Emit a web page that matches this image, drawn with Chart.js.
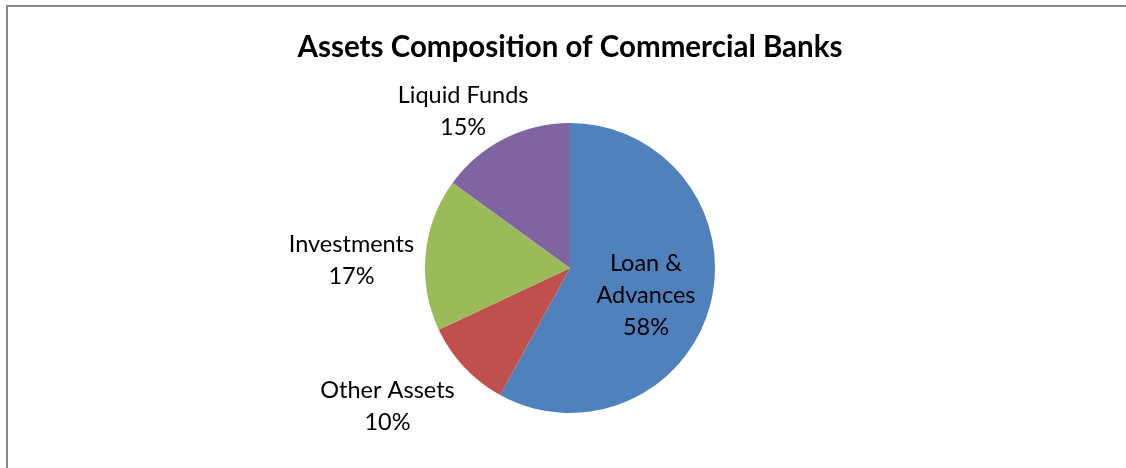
<!DOCTYPE html>
<html>
<head>
<meta charset="utf-8">
<script src="https://cdn.jsdelivr.net/npm/chart.js@4/dist/chart.umd.min.js"></script>
<style>
  html, body { margin: 0; padding: 0; background: #ffffff; }
  #wrap { position: relative; width: 1126px; height: 468px; }
  canvas { display: block; }
</style>
</head>
<body>
<div id="wrap"><canvas id="chart" width="1126" height="468"></canvas></div>
<script>
// Asset composition (percent of total assets)
const categories = ['Loan & Advances', 'Other Assets', 'Investments', 'Liquid Funds'];
const shares = [58, 10, 17, 15];
const sliceColors = ['#4F81BD', '#C0504D', '#9BBB59', '#8064A2'];
const chartTitle = 'Assets Composition of Commercial Banks';

// Label placement relative to each slice: radial factor of the radius and angular nudge (deg)
const labelLayout = [
  { lines: ['Loan &', 'Advances'], k: 0.556, nudge: 5.2 },
  { lines: ['Other Assets'], k: 1.578, nudge: 6.1 },
  { lines: ['Investments'], k: 1.508, nudge: -3.3 },
  { lines: ['Liquid Funds'], k: 1.305, nudge: -7.4 }
];

const LABEL_FONT = '23.5px Lato, "Open Sans", sans-serif';
const LINE_H = 32;

// Thin grey frame along the top and left edges
const framePlugin = {
  id: 'frame',
  beforeDraw(chart) {
    const ctx = chart.ctx;
    ctx.save();
    ctx.fillStyle = '#ffffff';
    ctx.fillRect(0, 0, chart.width, chart.height);
    ctx.strokeStyle = '#878787';
    ctx.lineWidth = 2;
    ctx.beginPath();
    ctx.moveTo(7, chart.height);
    ctx.lineTo(7, 6);
    ctx.lineTo(chart.width, 6);
    ctx.stroke();
    ctx.restore();
  }
};

// Category name + percentage drawn next to (or inside) each slice
const sliceLabelPlugin = {
  id: 'sliceLabels',
  afterDatasetsDraw(chart) {
    const ctx = chart.ctx;
    const meta = chart.getDatasetMeta(0);
    const values = chart.data.datasets[0].data;
    const total = values.reduce((a, b) => a + b, 0);
    ctx.save();
    ctx.font = LABEL_FONT;
    ctx.fillStyle = '#000000';
    ctx.textAlign = 'center';
    ctx.textBaseline = 'middle';
    meta.data.forEach((arc, i) => {
      const p = arc.getProps(['x', 'y', 'startAngle', 'endAngle', 'outerRadius'], true);
      const mid = (p.startAngle + p.endAngle) / 2 + labelLayout[i].nudge * Math.PI / 180;
      const dist = p.outerRadius * labelLayout[i].k;
      const cx = p.x + Math.cos(mid) * dist;
      const cy = p.y + Math.sin(mid) * dist;
      const pct = Math.round(values[i] / total * 100) + '%';
      const lines = labelLayout[i].lines.concat([pct]);
      const top = cy - (lines.length - 1) * LINE_H / 2;
      lines.forEach((t, j) => ctx.fillText(t, cx, top + j * LINE_H));
    });
    ctx.restore();
  }
};

new Chart(document.getElementById('chart'), {
  type: 'pie',
  data: {
    labels: categories,
    datasets: [{
      data: shares,
      backgroundColor: sliceColors,
      borderWidth: 0
    }]
  },
  options: {
    responsive: false,
    animation: false,
    rotation: 0,
    layout: { padding: { top: 0, bottom: 55, left: 14, right: 0 } },
    plugins: {
      legend: { display: false },
      tooltip: { enabled: false },
      title: {
        display: true,
        text: chartTitle,
        color: '#000000',
        font: { family: 'Lato, "Open Sans", sans-serif', size: 29.5, weight: 'bold', lineHeight: 1.2 },
        padding: { top: 30, bottom: 57.6 }
      }
    }
  },
  plugins: [framePlugin, sliceLabelPlugin]
});
</script>
</body>
</html>
